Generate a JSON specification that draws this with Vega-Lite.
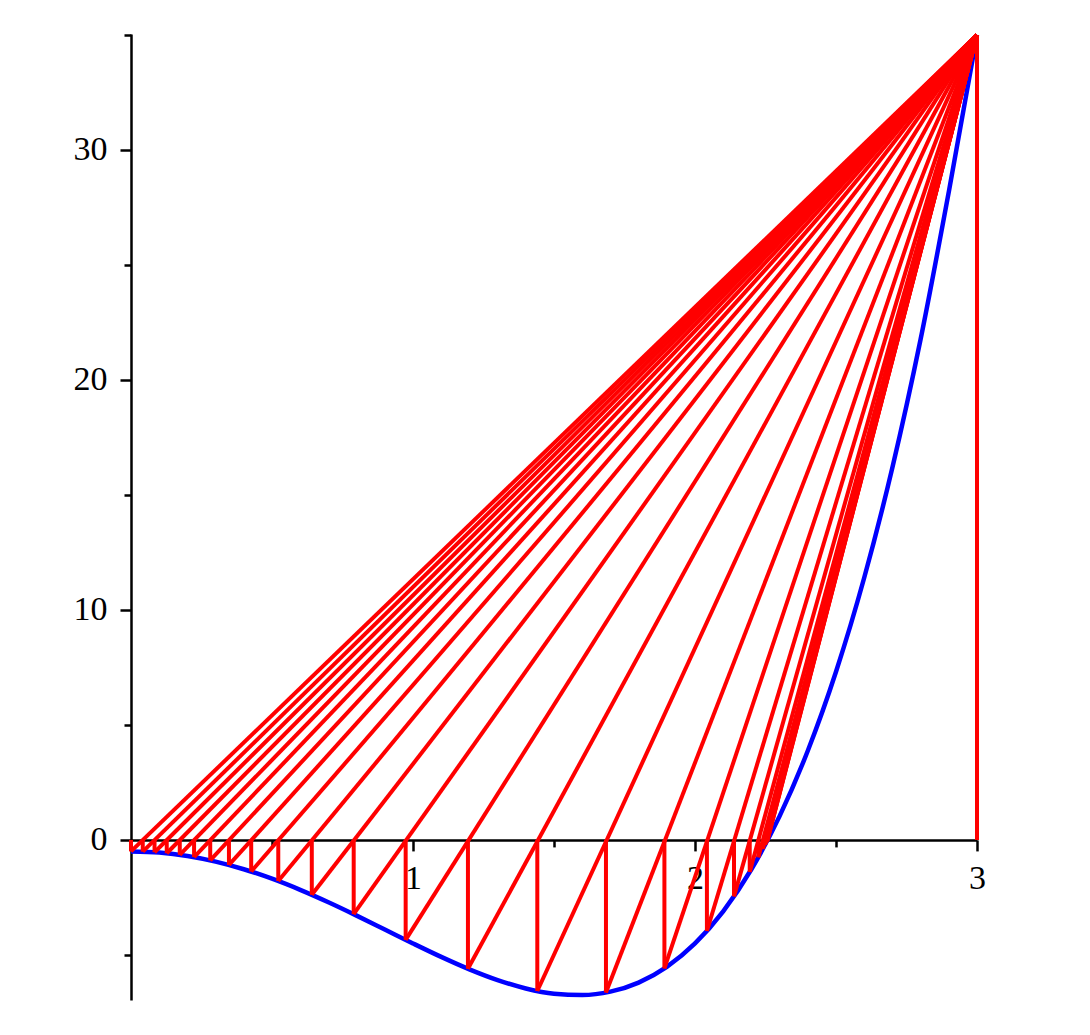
{
  "$schema": "https://vega.github.io/schema/vega-lite/v6.json",
  "description": "False position iterations on a quartic curve",
  "width": 846,
  "height": 966,
  "autosize": {"type": "none"},
  "padding": {"left": 131, "top": 34, "right": 113, "bottom": 35},
  "background": "white",
  "config": {
    "view": {"stroke": null},
    "axis": {
      "title": null,
      "grid": false,
      "domainColor": "black",
      "domainWidth": 2.5,
      "tickColor": "black",
      "tickWidth": 2.5,
      "labelFont": "Liberation Serif",
      "labelFontSize": 34,
      "labelColor": "black",
      "labelOverlap": false,
      "labelFlush": false,
      "labelBound": false,
      "format": "d"
    }
  },
  "datasets": {
    "curve": [
      {"x": 0.0, "y": -0.5},
      {"x": 0.1, "y": -0.5499},
      {"x": 0.2, "y": -0.6984},
      {"x": 0.3, "y": -0.9419},
      {"x": 0.4, "y": -1.2744},
      {"x": 0.5, "y": -1.6875},
      {"x": 0.6, "y": -2.1704},
      {"x": 0.7, "y": -2.7099},
      {"x": 0.8, "y": -3.2904},
      {"x": 0.9, "y": -3.8939},
      {"x": 1.0, "y": -4.5},
      {"x": 1.1, "y": -5.0859},
      {"x": 1.2, "y": -5.6264},
      {"x": 1.3, "y": -6.0939},
      {"x": 1.4, "y": -6.4584},
      {"x": 1.5, "y": -6.6875},
      {"x": 1.6, "y": -6.7464},
      {"x": 1.7, "y": -6.5979},
      {"x": 1.8, "y": -6.2024},
      {"x": 1.9, "y": -5.5179},
      {"x": 2.0, "y": -4.5},
      {"x": 2.1, "y": -3.1019},
      {"x": 2.2, "y": -1.2744},
      {"x": 2.3, "y": 1.0341},
      {"x": 2.4, "y": 3.8776},
      {"x": 2.5, "y": 7.3125},
      {"x": 2.6, "y": 11.3976},
      {"x": 2.7, "y": 16.1941},
      {"x": 2.8, "y": 21.7656},
      {"x": 2.9, "y": 28.1781},
      {"x": 3.0, "y": 35.0}
    ],
    "steps": [
      {"x": 0.0, "y": 0, "x2": 0.0, "y2": -0.5},
      {"x": 0.0, "y": -0.5, "x2": 3, "y2": 35},
      {"x": 0.041667, "y": 0, "x2": 0.041667, "y2": -0.508678},
      {"x": 0.041667, "y": -0.508678, "x2": 3, "y2": 35},
      {"x": 0.083458, "y": 0, "x2": 0.083458, "y2": -0.534778},
      {"x": 0.083458, "y": -0.534778, "x2": 3, "y2": 35},
      {"x": 0.126741, "y": 0, "x2": 0.126741, "y2": -0.580059},
      {"x": 0.126741, "y": -0.580059, "x2": 3, "y2": 35},
      {"x": 0.172935, "y": 0, "x2": 0.172935, "y2": -0.648641},
      {"x": 0.172935, "y": -0.648641, "x2": 3, "y2": 35},
      {"x": 0.223664, "y": 0, "x2": 0.223664, "y2": -0.747627},
      {"x": 0.223664, "y": -0.747627, "x2": 3, "y2": 35},
      {"x": 0.280927, "y": 0, "x2": 0.280927, "y2": -0.888372},
      {"x": 0.280927, "y": -0.888372, "x2": 3, "y2": 35},
      {"x": 0.34731, "y": 0, "x2": 0.34731, "y2": -1.08857},
      {"x": 0.34731, "y": -1.08857, "x2": 3, "y2": 35},
      {"x": 0.426232, "y": 0, "x2": 0.426232, "y2": -1.375364},
      {"x": 0.426232, "y": -1.375364, "x2": 3, "y2": 35},
      {"x": 0.522227, "y": 0, "x2": 0.522227, "y2": -1.789228},
      {"x": 0.522227, "y": -1.789228, "x2": 3, "y2": 35},
      {"x": 0.641117, "y": 0, "x2": 0.641117, "y2": -2.386209},
      {"x": 0.641117, "y": -2.386209, "x2": 3, "y2": 35},
      {"x": 0.789688, "y": 0, "x2": 0.789688, "y2": -3.229149},
      {"x": 0.789688, "y": -3.229149, "x2": 3, "y2": 35},
      {"x": 0.973979, "y": 0, "x2": 0.973979, "y2": -4.343267},
      {"x": 0.973979, "y": -4.343267, "x2": 3, "y2": 35},
      {"x": 1.194833, "y": 0, "x2": 1.194833, "y2": -5.600014},
      {"x": 1.194833, "y": -5.600014, "x2": 3, "y2": 35},
      {"x": 1.440793, "y": 0, "x2": 1.440793, "y2": -6.570126},
      {"x": 1.440793, "y": -6.570126, "x2": 3, "y2": 35},
      {"x": 1.684296, "y": 0, "x2": 1.684296, "y2": -6.63653},
      {"x": 1.684296, "y": -6.63653, "x2": 3, "y2": 35},
      {"x": 1.891519, "y": 0, "x2": 1.891519, "y2": -5.587252},
      {"x": 1.891519, "y": -5.587252, "x2": 3, "y2": 35},
      {"x": 2.042256, "y": 0, "x2": 2.042256, "y2": -3.958394},
      {"x": 2.042256, "y": -3.958394, "x2": 3, "y2": 35},
      {"x": 2.138335, "y": 0, "x2": 2.138335, "y2": -2.454839},
      {"x": 2.138335, "y": -2.454839, "x2": 3, "y2": 35},
      {"x": 2.194066, "y": 0, "x2": 2.194066, "y2": -1.395747},
      {"x": 2.194066, "y": -1.395747, "x2": 3, "y2": 35},
      {"x": 2.224554, "y": 0, "x2": 2.224554, "y2": -0.754155},
      {"x": 2.224554, "y": -0.754155, "x2": 3, "y2": 35},
      {"x": 2.240685, "y": 0, "x2": 2.240685, "y2": -0.396228},
      {"x": 2.240685, "y": -0.396228, "x2": 3, "y2": 35},
      {"x": 2.249066, "y": 0, "x2": 2.249066, "y2": -0.205111},
      {"x": 2.249066, "y": -0.205111, "x2": 3, "y2": 35},
      {"x": 2.25338, "y": 0, "x2": 2.25338, "y2": -0.105354},
      {"x": 2.25338, "y": -0.105354, "x2": 3, "y2": 35},
      {"x": 2.255589, "y": 0, "x2": 2.255589, "y2": -0.0539},
      {"x": 2.255589, "y": -0.0539, "x2": 3, "y2": 35},
      {"x": 2.256718, "y": 0, "x2": 2.256718, "y2": -0.0276},
      {"x": 2.256718, "y": -0.0276, "x2": 3, "y2": 35},
      {"x": 3, "y": 0, "x2": 3, "y2": 35}
    ]
  },
  "layer": [
    {
      "data": {"name": "curve"},
      "mark": {"type": "line", "color": "#0000FF", "strokeWidth": 4.5, "interpolate": "monotone"},
      "encoding": {
        "x": {
          "field": "x",
          "type": "quantitative",
          "scale": {"domain": [0, 3], "nice": false, "zero": false},
          "axis": {
            "orient": "bottom",
            "values": [0.5, 1, 1.5, 2, 2.5, 3],
            "labelExpr": "datum.value % 1 === 0 ? datum.label : ''",
            "tickSize": {"condition": {"test": "datum.value % 1 === 0", "value": 11}, "value": 7},
            "labelPadding": 11,
            "offset": {"expr": "scale('y', 0) - height"}
          }
        },
        "y": {
          "field": "y",
          "type": "quantitative",
          "scale": {"domain": [-6.96, 35.04], "nice": false, "zero": false},
          "axis": {
            "orient": "left",
            "values": [-5, 0, 5, 10, 15, 20, 25, 30, 35],
            "labelExpr": "datum.value % 10 === 0 ? datum.label : ''",
            "tickSize": {"condition": {"test": "datum.value % 10 === 0", "value": 11}, "value": 7},
            "labelPadding": 13
          }
        }
      }
    },
    {
      "data": {"name": "steps"},
      "mark": {"type": "rule", "color": "#FF0000", "strokeWidth": 4},
      "encoding": {
        "x": {"field": "x", "type": "quantitative"},
        "x2": {"field": "x2"},
        "y": {"field": "y", "type": "quantitative"},
        "y2": {"field": "y2"}
      }
    }
  ]
}
